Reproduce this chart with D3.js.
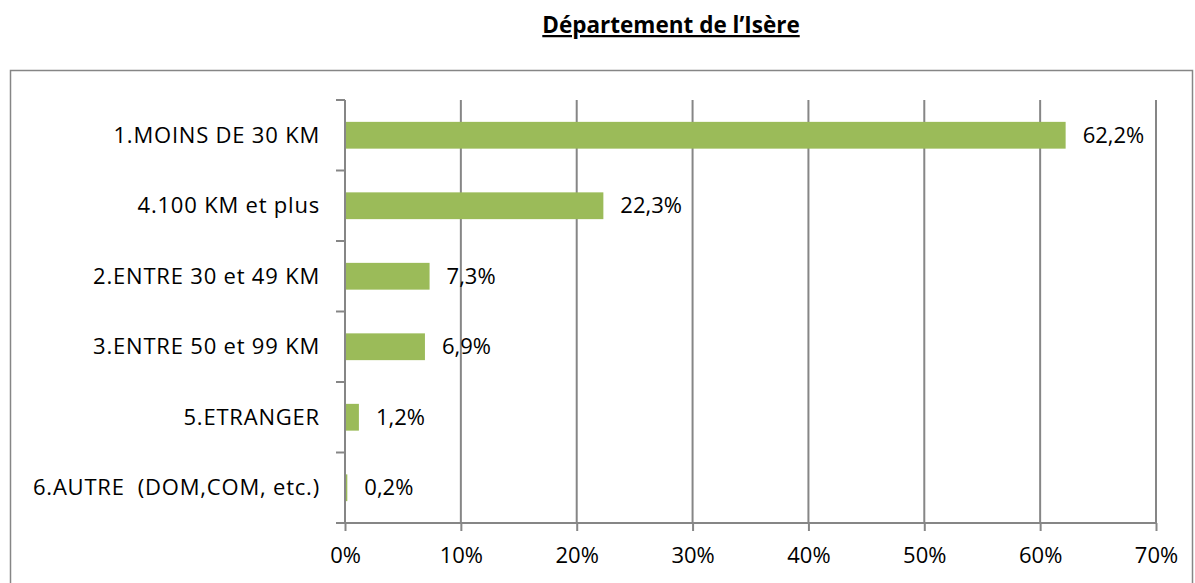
<!DOCTYPE html>
<html>
<head>
<meta charset="utf-8" />
<title>Département de l'Isère</title>
<script src="https://cdnjs.cloudflare.com/ajax/libs/d3/7.8.5/d3.min.js"></script>
<style>
  body { margin: 0; background: #fff; }
  svg { font-family: "Open Sans", Lato, sans-serif; }
</style>
</head>
<body>
<svg id="chart" width="1195" height="583"></svg>
<script>
// data
const categories = [
  "1.MOINS DE 30 KM",
  "4.100 KM et plus",
  "2.ENTRE 30 et 49 KM",
  "3.ENTRE 50 et 99 KM",
  "5.ETRANGER",
  "6.AUTRE  (DOM,COM, etc.)"
]
const values = [62.2, 22.3, 7.3, 6.9, 1.2, 0.2]
const xTicks = [0, 10, 20, 30, 40, 50, 60, 70]
const title = "Département de l’Isère"

const svg = d3.select("#chart")
const grid = "#868686"
const fs = "22px"

// outer frame
svg.append("rect")
  .attr("x", 10.5).attr("y", 70.5)
  .attr("width", 1182).attr("height", 530)
  .attr("fill", "none").attr("stroke", grid).attr("stroke-width", 1.5)

// title
svg.append("text")
  .attr("x", 671).attr("y", 33)
  .attr("text-anchor", "middle")
  .style("font-size", "22.5px").style("font-weight", "bold")
  .style("text-decoration", "underline")
  .text(title)

const pLeft = 345, pRight = 1156, pTop = 100, pBottom = 523

const x = d3.scaleLinear().domain([0, 70]).range([pLeft, pRight])
const y = d3.scaleBand().domain(categories).range([pTop, pBottom])
  .paddingInner(0.62).paddingOuter(0.31)

// vertical gridlines
svg.append("g").selectAll("line")
  .data(xTicks.slice(1))
  .enter().append("line")
  .attr("x1", d => x(d)).attr("x2", d => x(d))
  .attr("y1", pTop).attr("y2", pBottom)
  .attr("stroke", grid).attr("stroke-width", 2)

// bars
svg.append("g").selectAll("rect")
  .data(values)
  .enter().append("rect")
  .attr("x", x(0))
  .attr("y", (d, i) => y(categories[i]))
  .attr("width", d => x(d) - x(0))
  .attr("height", y.bandwidth())
  .attr("fill", "#9BBB59")

// value labels
svg.append("g").selectAll("text")
  .data(values)
  .enter().append("text")
  .attr("x", d => x(d) + 17)
  .attr("y", (d, i) => y(categories[i]) + y.bandwidth() / 2)
  .attr("dy", "0.35em")
  .style("font-size", fs).attr("fill", "#000")
  .text(d => d.toFixed(1).replace(".", ",") + "%")

// x axis
const xAxis = d3.axisBottom(x).tickValues(xTicks).tickSize(8).tickPadding(16)
  .tickFormat(d => d + "%")
const gx = svg.append("g").attr("transform", `translate(0,${pBottom})`).call(xAxis)
gx.select(".domain").attr("stroke", grid).attr("stroke-width", 2)
  .attr("d", `M${pLeft},0H${pRight}`)
gx.selectAll(".tick line").attr("stroke", grid).attr("stroke-width", 2)
gx.selectAll(".tick text").style("font-size", fs).attr("fill", "#000")
  .style("font-family", "'Open Sans', Lato, sans-serif")

// y axis (ticks at band boundaries)
const ySpan = pBottom - pTop
const bounds = d3.range(categories.length + 1).map(i => pTop + i * ySpan / categories.length)
svg.append("line")
  .attr("x1", pLeft).attr("x2", pLeft).attr("y1", pTop).attr("y2", pBottom)
  .attr("stroke", grid).attr("stroke-width", 2)
svg.append("g").selectAll("line")
  .data(bounds)
  .enter().append("line")
  .attr("x1", pLeft - 9).attr("x2", pLeft)
  .attr("y1", d => d).attr("y2", d => d)
  .attr("stroke", grid).attr("stroke-width", 2)

svg.append("g").selectAll("text")
  .data(categories)
  .enter().append("text")
  .attr("x", 320)
  .attr("y", d => y(d) + y.bandwidth() / 2)
  .attr("dy", "0.35em")
  .attr("text-anchor", "end")
  .style("font-size", fs)
  .style("letter-spacing", "0.8px")
  .style("white-space", "pre")
  .text(d => d)
</script>
</body>
</html>
